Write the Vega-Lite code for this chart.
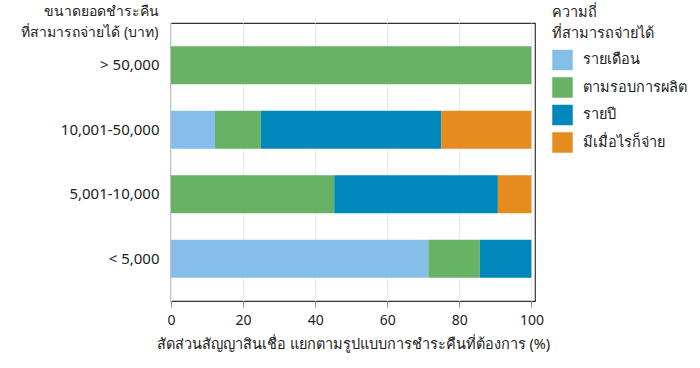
{
  "$schema": "https://vega.github.io/schema/vega-lite/v6.json",
  "autosize": {"type": "none"},
  "padding": {"left": 171, "top": 23, "right": 165, "bottom": 67},
  "width": 364,
  "height": 278,
  "background": "white",
  "config": {
    "font": "Noto Sans",
    "view": {"stroke": "#333333", "strokeWidth": 1.2},
    "axis": {"labelColor": "#222222", "titleColor": "#222222", "titleFontWeight": "normal"},
    "legend": {"labelColor": "#222222", "titleColor": "#222222", "titleFontWeight": "normal"}
  },
  "data": {
    "values": [
      {"size": "> 50,000", "freq": "รายเดือน", "k": 1, "value": 0},
      {"size": "> 50,000", "freq": "ตามรอบการผลิต", "k": 2, "value": 100},
      {"size": "> 50,000", "freq": "รายปี", "k": 3, "value": 0},
      {"size": "> 50,000", "freq": "มีเมื่อไรก็จ่าย", "k": 4, "value": 0},
      {"size": "10,001-50,000", "freq": "รายเดือน", "k": 1, "value": 12.2},
      {"size": "10,001-50,000", "freq": "ตามรอบการผลิต", "k": 2, "value": 12.7},
      {"size": "10,001-50,000", "freq": "รายปี", "k": 3, "value": 50.1},
      {"size": "10,001-50,000", "freq": "มีเมื่อไรก็จ่าย", "k": 4, "value": 25.0},
      {"size": "5,001-10,000", "freq": "รายเดือน", "k": 1, "value": 0},
      {"size": "5,001-10,000", "freq": "ตามรอบการผลิต", "k": 2, "value": 45.3},
      {"size": "5,001-10,000", "freq": "รายปี", "k": 3, "value": 45.4},
      {"size": "5,001-10,000", "freq": "มีเมื่อไรก็จ่าย", "k": 4, "value": 9.3},
      {"size": "< 5,000", "freq": "รายเดือน", "k": 1, "value": 71.4},
      {"size": "< 5,000", "freq": "ตามรอบการผลิต", "k": 2, "value": 14.3},
      {"size": "< 5,000", "freq": "รายปี", "k": 3, "value": 14.3},
      {"size": "< 5,000", "freq": "มีเมื่อไรก็จ่าย", "k": 4, "value": 0}
    ]
  },
  "mark": {"type": "bar"},
  "encoding": {
    "y": {
      "field": "size",
      "type": "nominal",
      "sort": ["> 50,000", "10,001-50,000", "5,001-10,000", "< 5,000"],
      "scale": {"paddingInner": 0.41, "paddingOuter": 0.36},
      "axis": {
        "title": ["ขนาดยอดชำระคืน", "ที่สามารถจ่ายได้ (บาท)"],
        "titleAngle": 0,
        "titleAlign": "right",
        "titleBaseline": "top",
        "titleX": -13,
        "titleY": -19,
        "titleFontSize": 14,
        "titleLineHeight": 21,
        "labelFontSize": 15,
        "labelPadding": 12,
        "ticks": false,
        "domain": false
      }
    },
    "x": {
      "field": "value",
      "type": "quantitative",
      "stack": "zero",
      "scale": {"domain": [0, 101], "nice": false},
      "axis": {
        "title": "สัดส่วนสัญญาสินเชื่อ แยกตามรูปแบบการชำระคืนที่ต้องการ (%)",
        "values": [0, 20, 40, 60, 80, 100],
        "titleFontSize": 14.5,
        "titlePadding": 10,
        "labelFontSize": 14,
        "labelPadding": 6,
        "tickSize": 6,
        "tickColor": "#888888",
        "domain": false,
        "grid": true,
        "gridColor": "#e3eeee",
        "labelFlush": false
      }
    },
    "color": {
      "field": "freq",
      "type": "nominal",
      "sort": ["รายเดือน", "ตามรอบการผลิต", "รายปี", "มีเมื่อไรก็จ่าย"],
      "scale": {
        "domain": ["รายเดือน", "ตามรอบการผลิต", "รายปี", "มีเมื่อไรก็จ่าย"],
        "range": ["#85bfe9", "#68b266", "#0088ba", "#e68c1e"]
      },
      "legend": {
        "title": ["ความถี่", "ที่สามารถจ่ายได้"],
        "orient": "none",
        "legendX": 381,
        "legendY": -17,
        "titleFontSize": 14.5,
        "titleLineHeight": 21,
        "labelFontSize": 14.5,
        "symbolType": "square",
        "symbolSize": 420,
        "symbolStrokeWidth": 0,
        "rowPadding": 6.5,
        "labelOffset": 10,
        "titlePadding": 8
      }
    },
    "order": {"field": "k", "type": "quantitative"}
  }
}
